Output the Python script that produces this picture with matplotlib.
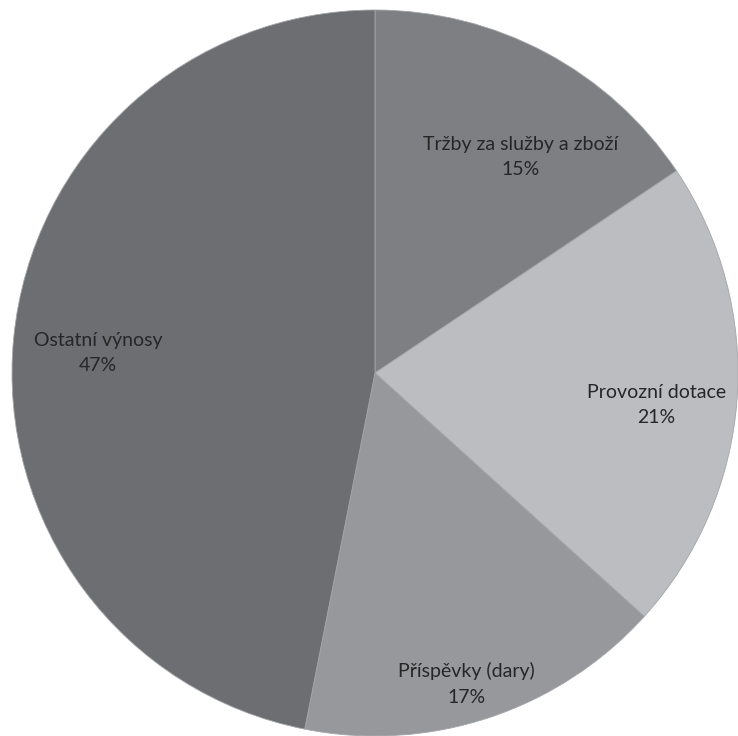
import matplotlib.pyplot as plt

# podíly výnosů – úhly výsečí odečtené z obrázku a popsané procento
labels = ['Tržby za služby a zboží', 'Provozní dotace', 'Příspěvky (dary)', 'Ostatní výnosy']
shares = [15.6, 21.1, 16.4, 46.9]
pct_labels = ['15%', '21%', '17%', '47%']
colors = ['#7e7f83', '#bcbdc1', '#97989c', '#6d6e72']

# středy popisků v souřadnicích osy (poloměr = 1)
label_xy = [(0.40, 0.595), (0.776, -0.088), (0.253, -0.857), (-0.763, 0.055)]

fig = plt.figure(figsize=(7.38, 7.36), dpi=100)
ax = fig.add_axes([0, 0, 1, 1])

wedges, texts = ax.pie(shares, colors=colors, startangle=90, counterclock=False,
                       radius=1.0, center=(0, 0),
                       wedgeprops=dict(edgecolor='#a4a5a9', linewidth=0.6))

for (x, y), lab, p in zip(label_xy, labels, pct_labels):
    ax.text(x, y, lab + '\n' + p, ha='center', va='center',
            fontsize=14, color='#262626', family='Lato', linespacing=1.6)

ax.set_xlim(-375 / 363, 363 / 363)
ax.set_ylim(-363 / 363, 373 / 363)
ax.set_aspect('auto')
ax.axis('off')

fig.savefig('out.png', dpi=100, facecolor='white')
